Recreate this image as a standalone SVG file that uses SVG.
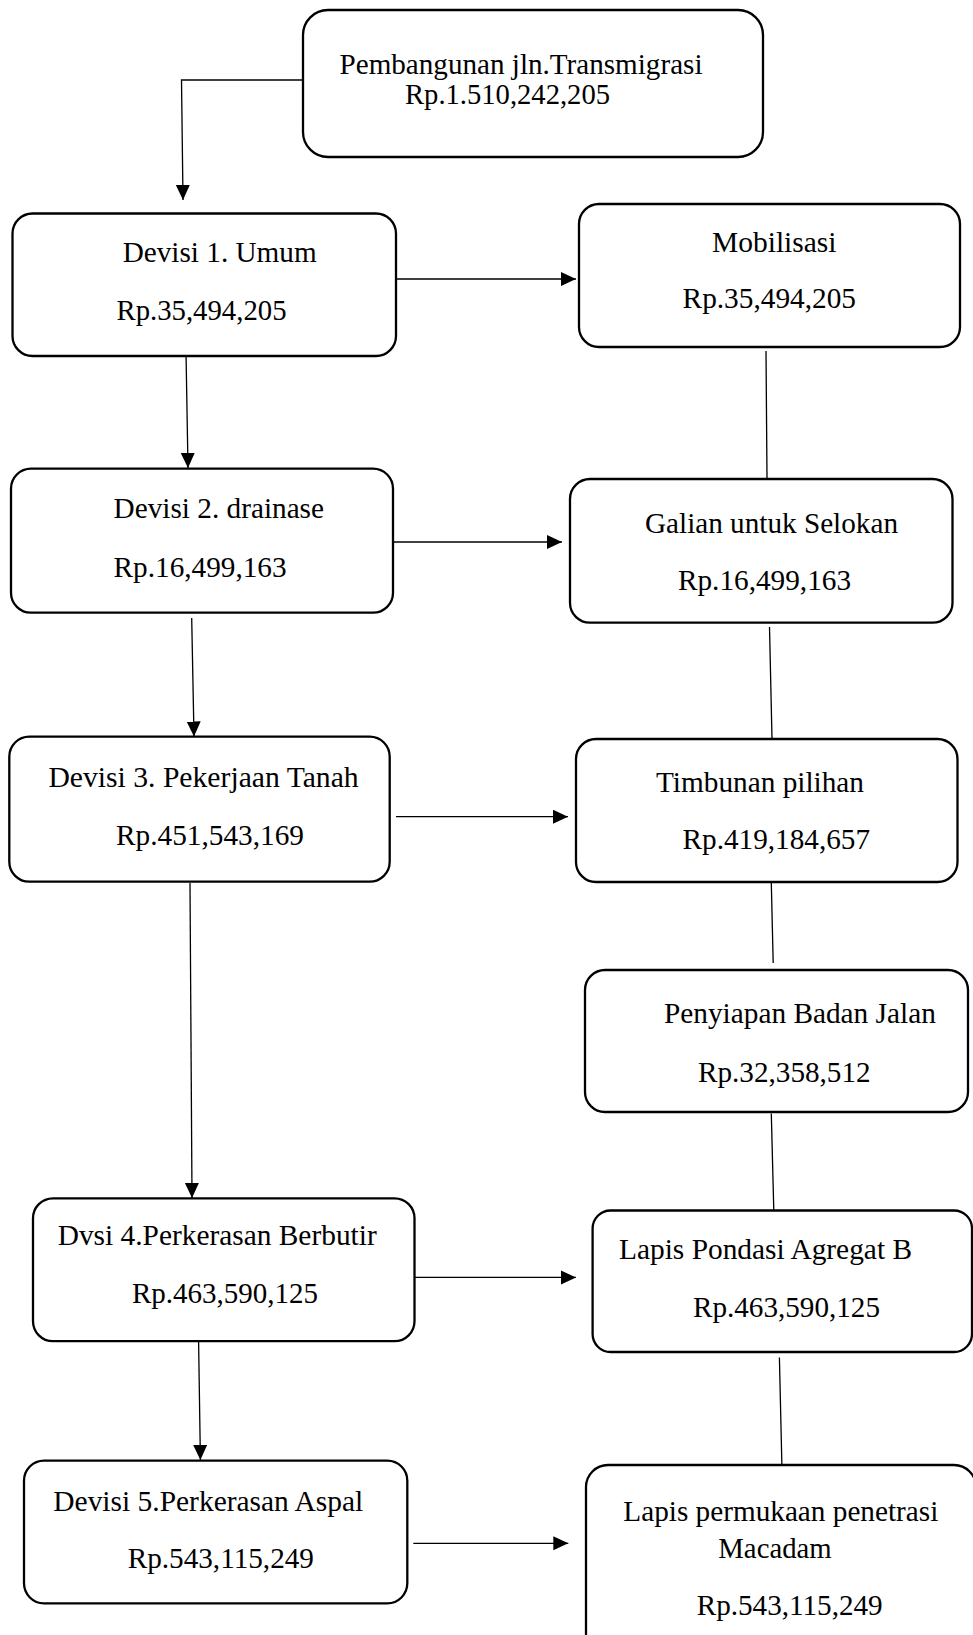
<svg xmlns="http://www.w3.org/2000/svg" width="973" height="1635" viewBox="0 0 973 1635">
<style>
.box{fill:#fff;stroke:#000;stroke-width:2.3}
.t{font-family:"Liberation Serif","Times New Roman",serif;font-size:29px;fill:#000}
.c{fill:none;stroke:#000;stroke-width:1.3}
</style>
<defs>
<marker id="ah" markerUnits="userSpaceOnUse" markerWidth="16" markerHeight="15" refX="15" refY="7" orient="auto">
<path d="M0,0 L15,7 L0,14 Z" fill="#000"/>
</marker>
</defs>
<rect width="973" height="1635" fill="#fff"/>
<g id="connectors">
<polyline class="c" points="303,80 181.5,80 183,200" marker-end="url(#ah)"/>
<line class="c" x1="397" y1="279" x2="576" y2="279" marker-end="url(#ah)"/>
<line class="c" x1="186" y1="352" x2="188" y2="468" marker-end="url(#ah)"/>
<line class="c" x1="390" y1="542" x2="562" y2="542" marker-end="url(#ah)"/>
<line class="c" x1="766" y1="351" x2="767" y2="479"/>
<line class="c" x1="191.7" y1="618" x2="194" y2="736.5" marker-end="url(#ah)"/>
<line class="c" x1="396" y1="816.7" x2="568" y2="816.7" marker-end="url(#ah)"/>
<line class="c" x1="769.5" y1="627" x2="772" y2="739"/>
<line class="c" x1="771.3" y1="883" x2="773.2" y2="963"/>
<line class="c" x1="190" y1="883" x2="192" y2="1198" marker-end="url(#ah)"/>
<line class="c" x1="413" y1="1277.4" x2="576" y2="1277.4" marker-end="url(#ah)"/>
<line class="c" x1="771.3" y1="1113.6" x2="773.8" y2="1210.9"/>
<line class="c" x1="779.4" y1="1357.6" x2="781.9" y2="1466"/>
<line class="c" x1="198.6" y1="1342" x2="200.4" y2="1460" marker-end="url(#ah)"/>
<line class="c" x1="413.3" y1="1543.3" x2="568.3" y2="1543.3" marker-end="url(#ah)"/>
</g>
<g id="n0">
<rect class="box" x="303" y="10" width="460" height="147" rx="25"/>
<text class="t" x="339.5" y="74" textLength="363" lengthAdjust="spacingAndGlyphs">Pembangunan jln.Transmigrasi</text>
<text class="t" x="405" y="104" textLength="205" lengthAdjust="spacingAndGlyphs">Rp.1.510,242,205</text>
</g>
<g id="n1">
<rect class="box" x="12.5" y="213.5" width="383.5" height="142.5" rx="20"/>
<text class="t" x="122.7" y="262" textLength="194" lengthAdjust="spacingAndGlyphs">Devisi 1. Umum</text>
<text class="t" x="116.5" y="320" textLength="170" lengthAdjust="spacingAndGlyphs">Rp.35,494,205</text>
</g>
<g id="n1r">
<rect class="box" x="579" y="204" width="381" height="143" rx="20"/>
<text class="t" x="712" y="251.7" textLength="124.5" lengthAdjust="spacingAndGlyphs">Mobilisasi</text>
<text class="t" x="682.6" y="308" textLength="173.4" lengthAdjust="spacingAndGlyphs">Rp.35,494,205</text>
</g>
<g id="n2">
<rect class="box" x="11" y="468.7" width="382" height="144" rx="20"/>
<text class="t" x="113.6" y="518" textLength="210.4" lengthAdjust="spacingAndGlyphs">Devisi 2. drainase</text>
<text class="t" x="113.6" y="576.7" textLength="173" lengthAdjust="spacingAndGlyphs">Rp.16,499,163</text>
</g>
<g id="n2r">
<rect class="box" x="570" y="479" width="382.5" height="143.7" rx="20"/>
<text class="t" x="645" y="533" textLength="253" lengthAdjust="spacingAndGlyphs">Galian untuk Selokan</text>
<text class="t" x="678" y="590" textLength="173" lengthAdjust="spacingAndGlyphs">Rp.16,499,163</text>
</g>
<g id="n3">
<rect class="box" x="9.3" y="736.7" width="380.4" height="145" rx="20"/>
<text class="t" x="48.4" y="786.7" textLength="310.3" lengthAdjust="spacingAndGlyphs">Devisi 3. Pekerjaan Tanah</text>
<text class="t" x="116" y="845" textLength="188" lengthAdjust="spacingAndGlyphs">Rp.451,543,169</text>
</g>
<g id="n3r">
<rect class="box" x="576" y="739" width="381.5" height="143" rx="20"/>
<text class="t" x="656" y="791.7" textLength="208" lengthAdjust="spacingAndGlyphs">Timbunan pilihan</text>
<text class="t" x="682.6" y="849" textLength="187.4" lengthAdjust="spacingAndGlyphs">Rp.419,184,657</text>
</g>
<g id="n3r2">
<rect class="box" x="585" y="970" width="383" height="142" rx="20"/>
<text class="t" x="664" y="1023" textLength="271.8" lengthAdjust="spacingAndGlyphs">Penyiapan Badan Jalan</text>
<text class="t" x="698" y="1081.7" textLength="172.6" lengthAdjust="spacingAndGlyphs">Rp.32,358,512</text>
</g>
<g id="n4">
<rect class="box" x="33" y="1198.3" width="381.5" height="142.9" rx="20"/>
<text class="t" x="57.7" y="1245" textLength="319" lengthAdjust="spacingAndGlyphs">Dvsi 4.Perkerasan Berbutir</text>
<text class="t" x="132" y="1303" textLength="186" lengthAdjust="spacingAndGlyphs">Rp.463,590,125</text>
</g>
<g id="n4r">
<rect class="box" x="592.6" y="1210.5" width="379.4" height="141.5" rx="18"/>
<text class="t" x="619" y="1258.6" textLength="293" lengthAdjust="spacingAndGlyphs">Lapis Pondasi Agregat B</text>
<text class="t" x="693" y="1316.6" textLength="187" lengthAdjust="spacingAndGlyphs">Rp.463,590,125</text>
</g>
<g id="n5">
<rect class="box" x="24" y="1460.7" width="383.3" height="142.6" rx="20"/>
<text class="t" x="53.3" y="1511" textLength="310" lengthAdjust="spacingAndGlyphs">Devisi 5.Perkerasan Aspal</text>
<text class="t" x="127.7" y="1568.3" textLength="186.3" lengthAdjust="spacingAndGlyphs">Rp.543,115,249</text>
</g>
<g id="n5r">
<rect class="box" x="586" y="1465" width="390" height="200" rx="22"/>
<text class="t" x="623.3" y="1521" textLength="315" lengthAdjust="spacingAndGlyphs">Lapis permukaan penetrasi</text>
<text class="t" x="718.3" y="1558.3" textLength="113.4" lengthAdjust="spacingAndGlyphs">Macadam</text>
<text class="t" x="696.7" y="1615" textLength="186" lengthAdjust="spacingAndGlyphs">Rp.543,115,249</text>
</g>
</svg>
